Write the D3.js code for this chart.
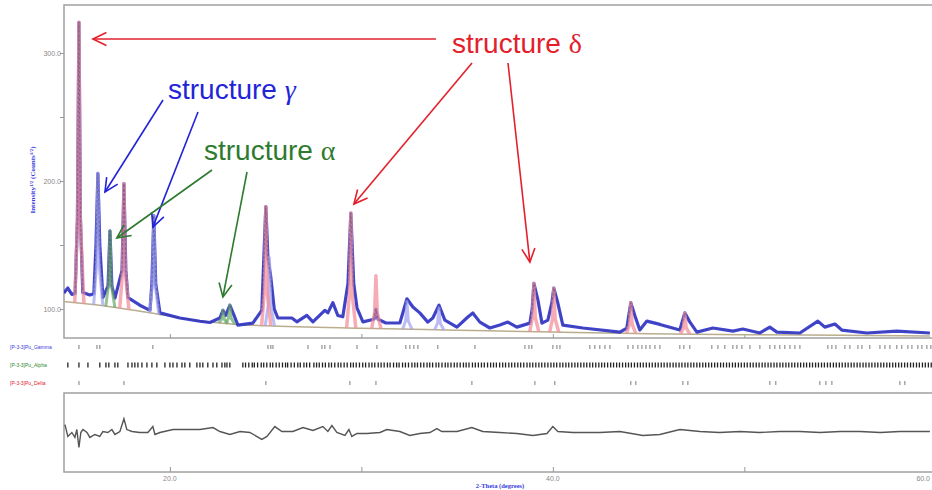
<!DOCTYPE html>
<html>
<head>
<meta charset="utf-8">
<script src="https://cdn.jsdelivr.net/npm/d3@7/dist/d3.min.js"></script>
<style>
  body { margin: 0; background: #fff; }
  svg { display: block; font-family: "Liberation Sans", Arial, sans-serif; }
</style>
</head>
<body>
<div id="chart"></div>
<script>
const observed = [
  [14.46,112.5],[14.67,116.4],[14.88,111.5],[15.05,112],[15.17,170],[15.25,324],[15.33,170],[15.45,113],
  [15.82,111],[16.03,112],[16.14,150],[16.24,206],[16.34,150],[16.50,109],[16.77,118],[16.87,161],
  [16.97,118],[17.13,108.6],[17.50,130],[17.60,198],[17.70,130],[17.81,109],[18.43,103],[18.96,99],
  [19.06,120],[19.16,173],[19.26,120],[19.48,97],[20.52,93],[21.57,90.5],[22.09,89.5],[22.61,93],
  [22.77,99],[22.92,95],[23.13,103],[23.35,95],[23.55,87.5],[24.33,89],[24.80,99],[25.01,180],
  [25.12,140],[25.27,125],[25.45,100],[25.64,93],[26.37,93],[26.63,90],[27.15,95],[27.47,90],
  [28.09,99],[28.25,97],[28.51,105],[28.77,95],[29.03,94],[29.30,120],[29.45,175],[29.60,120],
  [29.77,101],[30.08,90],[30.66,92],[30.76,100],[30.87,92],[31.28,89.1],[32.01,89.1],[32.38,108],
  [32.69,101.6],[33.05,97],[33.47,89.8],[33.73,93],[34.05,103],[34.36,91.4],[34.99,85.9],[35.56,93.8],
  [35.82,96.9],[36.19,89.8],[36.71,85.2],[37.23,87.5],[37.65,89.8],[38.12,85.9],[38.80,89],[38.92,100],
  [39.01,120],[39.22,107],[39.43,89],[39.74,91.4],[39.95,105],[40.05,116.4],[40.26,104.7],[40.52,87.5],
  [41.57,85.2],[43.50,82],[43.86,85],[44.07,105],[44.28,95],[44.54,83.6],[44.91,90.6],[45.59,88],
  [46.63,83.6],[46.89,97],[47.15,90],[47.52,82],[48.36,85.2],[49.40,82.8],[49.92,84.4],[50.81,81.3],
  [51.33,85.9],[51.70,82],[52.90,81.3],[53.84,90.6],[54.20,85.9],[54.73,88.3],[55.09,83.6],[56.40,81.3],
  [57.96,82.8],[59.69,81.3]
];

// refined background
const background = [
  [14.46,106],[16,103.5],[19,97],[22,90],[23.5,88],[25,87],[30,85],[35,83.5],
  [40,82],[45,80.8],[50,80],[55,79.5],[59.7,79]
];

// calculated phase peaks [2theta, top]
const peaksDelta = [[15.25,324],[17.60,198],[25.01,180],[29.45,175],[30.76,126],[39.01,120],[40.05,116],[44.07,105],[46.89,97]];
const peaksGamma = [[16.24,206],[19.16,173],[25.2,140],[32.38,106],[34.05,101]];
const peaksAlpha = [[16.87,161],[22.77,99],[23.13,103]];

// difference curve (obs - calc)
const difference = [
  [14.52,8],[14.67,-4],[14.88,0],[15.04,-5],[15.14,3],[15.25,-15],[15.35,0],[15.46,3],[15.67,0],
  [15.82,-5],[16.08,-2],[16.34,-4],[16.50,1],[16.76,0],[16.97,3],[17.13,-2],[17.39,1],[17.60,14],
  [17.75,3],[18.02,1],[18.43,0],[18.85,0],[19.11,6],[19.22,-2],[19.48,0],[20.16,3],[20.89,3],
  [21.57,3],[22.25,5],[22.61,1],[23.13,-2],[23.66,1],[24.18,0],[24.80,-7],[25.07,-4],[25.48,6],
  [25.85,1],[26.42,1],[26.95,5],[27.47,2],[27.99,6],[28.25,1],[28.46,7],[28.72,0],[29.14,-3],
  [29.35,3],[29.50,-4],[29.77,-1],[30.29,-1],[30.97,0],[31.33,3],[32.01,1],[32.53,-3],[33.05,-1],
  [33.58,0],[33.94,4],[34.20,1],[34.99,1],[35.77,5],[36.34,1],[37.23,0],[38.12,-1],[38.96,-3],
  [39.69,-1],[40.00,6],[40.26,1],[41.04,0],[42.45,0],[43.50,1],[44.70,-3],[45.59,-2],[46.63,3],
  [47.68,1],[48.7,0],[49.77,1],[50.8,0],[51.85,1],[52.9,1],[53.94,0],[55.0,1],[56.03,1],
  [57.1,0],[58.12,1],[59.69,1]
];

// reflection markers per phase
const reflGamma = [15.25,16.19,16.34,19.11,25.12,25.27,25.38,27.21,27.94,28.09,28.36,29.77,30.81,32.32,32.53,
  32.74,32.95,33.99,35.93,38.54,38.75,38.90,40.00,40.21,40.37,41.93,42.19,42.45,42.72,42.98,43.92,44.18,
  44.44,44.65,44.86,45.07,45.33,45.59,46.63,46.84,47.15,48.30,48.62,48.98,49.40,49.61,49.87,50.29,50.81,
  51.33,51.59,51.85,52.11,52.38,52.64,52.90,54.36,54.57,54.78,55.25,55.51,55.93,56.14,56.55,57.08,57.34,
  57.60,57.96,58.22,58.54,58.75,59.06,59.27,59.53,59.74];
const reflAlpha = [14.67,15.25,15.72,16.34,16.66,16.81,17.13,17.28,17.81,18.02,18.17,18.33,18.54,18.80,19.06,
  19.32,19.74,20.00,20.16,20.37,20.63,20.78,21.04,21.41,21.57,21.72,21.98,22.25,22.45,22.72,22.87,22.98,23.13,
  23.81,23.95,24.12,24.3,24.41,24.58,24.77,24.9,25.06,25.24,25.37,25.55,25.71,25.88,26.04,26.15,26.33,26.5,
  26.68,26.81,27.0,27.14,27.3,27.52,27.66,27.8,27.97,28.12,28.3,28.44,28.61,28.79,28.93,29.1,29.26,29.44,
  29.58,29.73,29.9,30.07,30.22,30.4,30.55,30.7,30.88,31.03,31.19,31.36,31.5,31.68,31.84,31.97,32.15,32.3,
  32.46,32.64,32.79,32.93,33.1,33.26,33.43,33.57,33.72,33.9,34.04,34.21,34.38,34.52,34.68,34.85,35.0,35.16,
  35.33,35.47,35.62,35.8,35.95,36.11,36.27,36.42,36.59,36.75,36.9,37.05,37.22,37.38,37.53,37.7,37.85,38.01,
  38.17,38.32,38.48,38.65,38.8,38.95,39.11,39.27,39.42,39.58,39.74,39.9,40.05,40.2,40.37,40.52,40.68,40.83,
  40.99,41.15,41.3,41.46,41.62,41.77,41.93,42.08,42.24,42.4,42.55,42.7,42.86,43.02,43.17,43.33,43.48,43.64,
  43.8,43.95,44.1,44.26,44.42,44.57,44.72,44.88,45.04,45.19,45.35,45.5,45.66,45.81,45.97,46.12,46.28,46.43,
  46.59,46.74,46.9,47.05,47.21,47.36,47.52,47.67,47.83,47.98,48.14,48.29,48.45,48.6,48.76,48.91,49.07,49.22,
  49.38,49.53,49.69,49.84,50.0,50.15,50.31,50.46,50.62,50.77,50.93,51.08,51.24,51.39,51.55,51.7,51.86,52.01,
  52.17,52.32,52.48,52.63,52.79,52.94,53.1,53.25,53.41,53.56,53.72,53.87,54.03,54.18,54.34,54.49,54.65,54.8,
  54.96,55.11,55.27,55.42,55.58,55.73,55.89,56.04,56.2,56.35,56.51,56.66,56.82,56.97,57.13,57.28,57.44,57.59,
  57.75,57.9,58.06,58.21,58.37,58.52,58.68,58.83,58.99,59.14,59.3,59.45,59.61,59.76];
const reflDelta = [15.25,17.60,25.01,29.40,30.76,35.77,39.06,40.10,44.07,44.33,46.79,47.05,51.33,51.64,53.94,54.26,54.57,58.12,58.38];

const phaseNames = ["[P-3-3]Pu_Gamma", "[P-3-3]Pu_Alpha", "[P-3-3]Pu_Delta"];
const yTicks = [100, 150, 200, 250, 300];
const xTicks = [20, 30, 40, 50, 60];

// annotations: tip in data coords [2theta, value]
const labels = [
  { text: "structure ", greek: "δ", color: "#e3202c" },
  { text: "structure ", greek: "γ", color: "#2323d8" },
  { text: "structure ", greek: "α", color: "#2e7a2e" }
];
const arrowTips = [
  [[15.98,311],[29.61,182],[38.80,136.7]],
  [[16.61,191.4],[19.11,164]],
  [[17.23,155.5],[22.77,109.4]]
];

const W = 932, H = 490;
const svg = d3.select("#chart").append("svg").attr("width", W).attr("height", H);

const x  = d3.scaleLinear().domain([14.47, 59.8]).range([64, 932]);
const y  = d3.scaleLinear().domain([77, 337.5]).range([338.5, 5]);
const yd = d3.scaleLinear().domain([-40, 40]).range([472, 393]);

const bgAt = t => {
  const i = d3.bisector(d => d[0]).left(background, t);
  const a = background[Math.max(0, i - 1)], b = background[Math.min(background.length - 1, i)];
  if (a === b) return a[1];
  return a[1] + (b[1] - a[1]) * (t - a[0]) / (b[0] - a[0]);
};

svg.append("clipPath").attr("id", "main").append("rect")
  .attr("x", 64).attr("y", 5).attr("width", 880).attr("height", 333);

// frames
const frameColor = "#a0a0a0";
svg.append("rect").attr("x", 64).attr("y", 5).attr("width", 900).attr("height", 333)
  .attr("fill", "none").attr("stroke", frameColor).attr("stroke-width", 1.5);
svg.append("rect").attr("x", 64).attr("y", 393).attr("width", 900).attr("height", 79)
  .attr("fill", "none").attr("stroke", frameColor).attr("stroke-width", 1.5);

// y axis
const yAxis = svg.append("g").attr("transform", "translate(64,0)")
  .call(d3.axisLeft(y).tickValues(yTicks).tickSize(4)
    .tickFormat(d => d % 100 === 0 ? d3.format(".1f")(d) : ""));
yAxis.select(".domain").remove();
yAxis.selectAll("line").attr("stroke", "#999");
yAxis.selectAll("text").attr("fill", "#888").style("font-size", "7px").attr("x", -3);

svg.append("text")
  .attr("transform", "translate(35,180) rotate(-90)")
  .attr("text-anchor", "middle")
  .attr("fill", "#3a3ae0")
  .style("font-size", "7px")
  .style("font-weight", "bold")
  .style("font-family", "'Liberation Serif', serif")
  .html('Intensity<tspan dy="-2" font-size="5">1/2</tspan><tspan dy="2"> (Counts</tspan><tspan dy="-2" font-size="5">1/2</tspan><tspan dy="2">)</tspan>');

// x axis ticks (main panel bottom and diff panel bottom)
const xTop = svg.append("g").attr("transform", "translate(0,338)")
  .call(d3.axisTop(x).tickValues(xTicks).tickSize(4).tickFormat(""));
xTop.select(".domain").remove();
xTop.selectAll("line").attr("stroke", "#999");

const xAxis = svg.append("g").attr("transform", "translate(0,472)")
  .call(d3.axisTop(x).tickValues(xTicks).tickSize(5).tickFormat(""));
xAxis.select(".domain").remove();
xAxis.selectAll("line").attr("stroke", "#999");

svg.append("g").selectAll("text")
  .data(xTicks.filter(d => d % 20 === 0))
  .enter().append("text")
  .attr("x", d => Math.min(x(d), 930))
  .attr("y", 481)
  .attr("text-anchor", d => x(d) > 920 ? "end" : "middle")
  .attr("fill", "#888")
  .style("font-size", "7px")
  .text(d => d3.format(".1f")(d));

svg.append("text")
  .attr("x", 500).attr("y", 488)
  .attr("text-anchor", "middle")
  .attr("fill", "#3a3ae0")
  .style("font-size", "6.5px")
  .style("font-weight", "bold")
  .style("font-family", "'Liberation Serif', serif")
  .text("2-Theta (degrees)");

// main pattern
const plot = svg.append("g").attr("clip-path", "url(#main)");
const line = d3.line().x(d => x(d[0])).y(d => y(d[1]));

plot.append("path").datum(background)
  .attr("d", line.curve(d3.curveMonotoneX))
  .attr("fill", "none").attr("stroke", "#b9ad8e").attr("stroke-width", 1.5);
line.curve(d3.curveLinear);

plot.append("path").datum(observed)
  .attr("d", line)
  .attr("fill", "none").attr("stroke", "#2b30d2").attr("stroke-width", 3.2)
  .attr("stroke-linejoin", "round").attr("opacity", 0.9);

const profile = p => {
  const b = bgAt(p[0]);
  return [[p[0] - 0.22, bgAt(p[0] - 0.22)], [p[0] - 0.07, b + (p[1] - b) * 0.3], [p[0], p[1]],
          [p[0] + 0.07, b + (p[1] - b) * 0.3], [p[0] + 0.26, bgAt(p[0] + 0.26)]];
};

function drawPeaks(peaks, color, width) {
  plot.selectAll(null).data(peaks).enter().append("path")
    .attr("d", d => line(profile(d)))
    .attr("fill", "none").attr("stroke", color).attr("stroke-width", width)
    .attr("stroke-linejoin", "round").attr("opacity", 0.75);
}
drawPeaks(peaksGamma, "#a6a6f2", 3);
drawPeaks(peaksAlpha, "#6fae6f", 3);
drawPeaks(peaksDelta, "#f3909c", 3.5);

// calculated total, thin dark
plot.append("path").datum(observed)
  .attr("d", line)
  .attr("fill", "none").attr("stroke", "#444").attr("stroke-width", 0.8)
  .attr("stroke-dasharray", "3,1.5").attr("opacity", 0.6);

// reflection marker rows
const rows = [
  { data: reflGamma, y: 347, color: "#9a9a9a", h: 4 },
  { data: reflAlpha, y: 365, color: "#222", h: 5 },
  { data: reflDelta, y: 383, color: "#9a9a9a", h: 4 }
];
const labelColors = ["#3a3ae0", "#2e8a2e", "#e3202c"];
rows.forEach((r, i) => {
  svg.append("g").selectAll("line")
    .data(r.data.filter(d => x(d) < 932))
    .enter().append("line")
    .attr("x1", d => x(d)).attr("x2", d => x(d))
    .attr("y1", r.y - r.h / 2).attr("y2", r.y + r.h / 2)
    .attr("stroke", r.color).attr("stroke-width", 1.3);
  svg.append("text")
    .attr("x", 10).attr("y", r.y + 2)
    .attr("fill", labelColors[i])
    .style("font-size", "5px")
    .text(phaseNames[i]);
});

// difference curve
svg.append("path").datum(difference)
  .attr("d", d3.line().x(d => x(d[0])).y(d => yd(d[1])))
  .attr("fill", "none").attr("stroke", "#555").attr("stroke-width", 1.4);

// annotations
const textPos = [[452, 53], [168, 99], [204, 160]];
const arrowTails = [[[436,39],[472,63],[508,63]], [[163,100],[198,112]], [[212,170],[247,172]]];

labels.forEach((l, i) => {
  const t = svg.append("text")
    .attr("x", textPos[i][0]).attr("y", textPos[i][1])
    .attr("fill", l.color)
    .style("font-size", "28px");
  t.append("tspan").text(l.text);
  t.append("tspan")
    .style("font-family", "'Liberation Serif', serif")
    .style("font-style", i === 1 ? "italic" : "normal")
    .text(l.greek);

  arrowTips[i].forEach((tip, j) => {
    const [x0, y0] = arrowTails[i][j];
    const x1 = x(tip[0]), y1 = y(tip[1]);
    const a = Math.atan2(y1 - y0, x1 - x0), len = 15, spread = 0.45;
    const g = svg.append("g").attr("stroke", l.color).attr("stroke-width", 1.6).attr("fill", "none");
    g.append("line").attr("x1", x0).attr("y1", y0).attr("x2", x1).attr("y2", y1);
    g.append("path").attr("d", d3.line()([
      [x1 - len * Math.cos(a - spread), y1 - len * Math.sin(a - spread)],
      [x1, y1],
      [x1 - len * Math.cos(a + spread), y1 - len * Math.sin(a + spread)]
    ]));
  });
});
</script>
</body>
</html>
